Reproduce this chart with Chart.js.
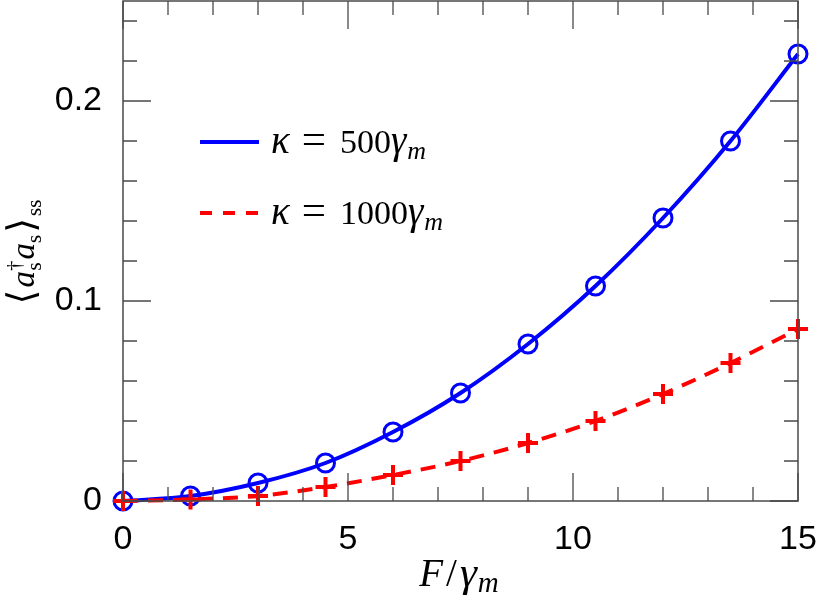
<!DOCTYPE html>
<html>
<head>
<meta charset="utf-8">
<script src="https://cdn.jsdelivr.net/npm/chart.js@4.4.0/dist/chart.umd.min.js"></script>
<style>
  html, body { margin: 0; padding: 0; background: #fff; }
  #wrap { width: 822px; height: 605px; }
</style>
</head>
<body>
<div id="wrap"><canvas id="plot" width="822" height="605"></canvas></div>
<script>
// F / gamma_m sample points
const forceValues = [0, 1.5, 3, 4.5, 6, 7.5, 9, 10.5, 12, 13.5, 15];
// kappa = 500 gamma_m (blue, circles)
const kappa500 = [0, 0.0025, 0.009, 0.019, 0.0345, 0.054, 0.0785, 0.1075, 0.1415, 0.18, 0.2235];
// kappa = 1000 gamma_m (red, crosses)
const kappa1000 = [0, 0.0008, 0.0025, 0.007, 0.013, 0.020, 0.029, 0.040, 0.0535, 0.069, 0.086];

const xTickLabels = ['0', '5', '10', '15'];
const yTickLabels = ['0', '0.1', '0.2'];

const SANS = '"Liberation Sans", Arial, sans-serif';
const SERIF = '"Liberation Serif", "DejaVu Serif", serif';

const toPoints = (ys) => forceValues.map((x, i) => ({x: x, y: ys[i]}));

// draw a run of text pieces (italic / sub / sup) starting at x, baseline y
function richWidth(ctx, parts, size) {
  let w = 0;
  parts.forEach(p => {
    ctx.font = (p.it ? 'italic ' : '') + Math.round(size * (p.s || 1)) + 'px ' + SERIF;
    w += ctx.measureText(p.t).width + (p.gap || 0);
  });
  return w;
}
function drawRich(ctx, parts, x, y, size) {
  parts.forEach(p => {
    ctx.font = (p.it ? 'italic ' : '') + Math.round(size * (p.s || 1)) + 'px ' + SERIF;
    ctx.fillText(p.t, x + (p.dx || 0), y + (p.dy || 0));
    x += ctx.measureText(p.t).width + (p.gap || 0);
  });
}

const frameAndLabels = {
  id: 'frameAndLabels',
  afterDraw(chart) {
    const ctx = chart.ctx;
    const {left, right, top, bottom} = chart.chartArea;
    const xs = chart.scales.x, ys = chart.scales.y;
    ctx.save();
    ctx.strokeStyle = '#4a4a4a';
    ctx.lineWidth = 1.5;
    ctx.strokeRect(left, top, right - left, bottom - top);

    // inward ticks on all four sides
    ctx.lineWidth = 1.3;
    ctx.beginPath();
    for (let v = 0; v <= 15; v++) {
      const px = xs.getPixelForValue(v);
      const len = v % 5 === 0 ? 28 : 14;
      ctx.moveTo(px, bottom); ctx.lineTo(px, bottom - len);
      ctx.moveTo(px, top); ctx.lineTo(px, top + len);
    }
    for (let k = 0; k <= 12; k++) {
      const py = ys.getPixelForValue(k * 0.02);
      const len = k % 5 === 0 ? 28 : 14;
      ctx.moveTo(left, py); ctx.lineTo(left + len, py);
      ctx.moveTo(right, py); ctx.lineTo(right - len, py);
    }
    ctx.stroke();

    // legend
    ctx.fillStyle = '#000';
    ctx.textBaseline = 'alphabetic';
    ctx.lineWidth = 4;
    ctx.strokeStyle = '#0000ff';
    ctx.beginPath(); ctx.moveTo(200, 142); ctx.lineTo(259, 142); ctx.stroke();
    ctx.strokeStyle = '#ff0000';
    ctx.setLineDash([12, 11]);
    ctx.beginPath(); ctx.moveTo(200, 213); ctx.lineTo(259, 213); ctx.stroke();
    ctx.setLineDash([]);
    const legendParts = (num) => [
      {t: 'κ', it: true, s: 1.15, gap: 12}, {t: '=', s: 1.25, gap: 14}, {t: num},
      {t: 'γ', it: true, s: 1.15, gap: 1}, {t: 'm', it: true, s: 0.75, dy: 6}
    ];
    drawRich(ctx, legendParts('500'), 271, 153, 34);
    drawRich(ctx, legendParts('1000'), 271, 224, 34);

    // x axis title
    const xParts = [{t: 'F', it: true, gap: 3}, {t: '/', gap: 3}, {t: 'γ', it: true, s: 1.1, gap: 1}, {t: 'm', it: true, s: 0.75, dy: 6}];
    const xw = richWidth(ctx, xParts, 39);
    drawRich(ctx, xParts, 459 - xw / 2, 586, 39);

    // y axis title, rotated
    const yParts = [
      {t: '⟨', s: 1.15, gap: 2}, {t: 'a', it: true}, {t: '†', s: 0.65, dy: -13, gap: -10},
      {t: 's', s: 0.65, dy: 7, gap: 3}, {t: 'a', it: true}, {t: 's', s: 0.65, dy: 7, gap: 2},
      {t: '⟩', s: 1.15, gap: 2}, {t: 'ss', s: 0.65, dy: 7}
    ];
    const yw = richWidth(ctx, yParts, 33);
    ctx.translate(34, 252);
    ctx.rotate(-Math.PI / 2);
    drawRich(ctx, yParts, -yw / 2, 0, 33);
    ctx.restore();
  }
};

new Chart(document.getElementById('plot'), {
  type: 'line',
  data: {
    datasets: [{
      label: 'κ = 1000γm',
      data: toPoints(kappa1000),
      borderColor: '#ff0000',
      borderWidth: 4,
      borderDash: [15, 10],
      cubicInterpolationMode: 'monotone',
      pointStyle: 'cross',
      pointRadius: 10,
      pointBorderWidth: 4,
      pointBorderColor: '#ff0000',
      clip: false
    }, {
      label: 'κ = 500γm',
      data: toPoints(kappa500),
      borderColor: '#0000ff',
      borderWidth: 4,
      cubicInterpolationMode: 'monotone',
      pointStyle: 'circle',
      pointRadius: 9,
      pointBorderWidth: 3,
      pointBorderColor: '#0000ff',
      pointBackgroundColor: 'rgba(0,0,0,0)',
      clip: false
    }]
  },
  options: {
    responsive: false,
    animation: false,
    layout: { autoPadding: false, padding: { top: 1, right: 24, left: 0, bottom: 0 } },
    plugins: { legend: { display: false }, tooltip: { enabled: false } },
    scales: {
      x: {
        type: 'linear',
        min: 0, max: 15,
        grid: { display: false },
        border: { display: false },
        afterFit: (s) => { s.height = 104; s.paddingLeft = 0; s.paddingRight = 0; },
        ticks: {
          stepSize: 5,
          padding: 10,
          color: '#000',
          font: { family: SANS, size: 34 },
          maxRotation: 0,
          callback: (v) => xTickLabels[v / 5]
        }
      },
      y: {
        min: 0, max: 0.25,
        grid: { display: false },
        border: { display: false },
        afterFit: (s) => { s.width = 123; s.paddingTop = 0; s.paddingBottom = 0; },
        ticks: {
          stepSize: 0.1,
          includeBounds: false,
          padding: 13,
          color: '#000',
          font: { family: SANS, size: 34 },
          callback: (v) => yTickLabels[Math.round(v * 10)]
        }
      }
    }
  },
  plugins: [frameAndLabels]
});
</script>
</body>
</html>
